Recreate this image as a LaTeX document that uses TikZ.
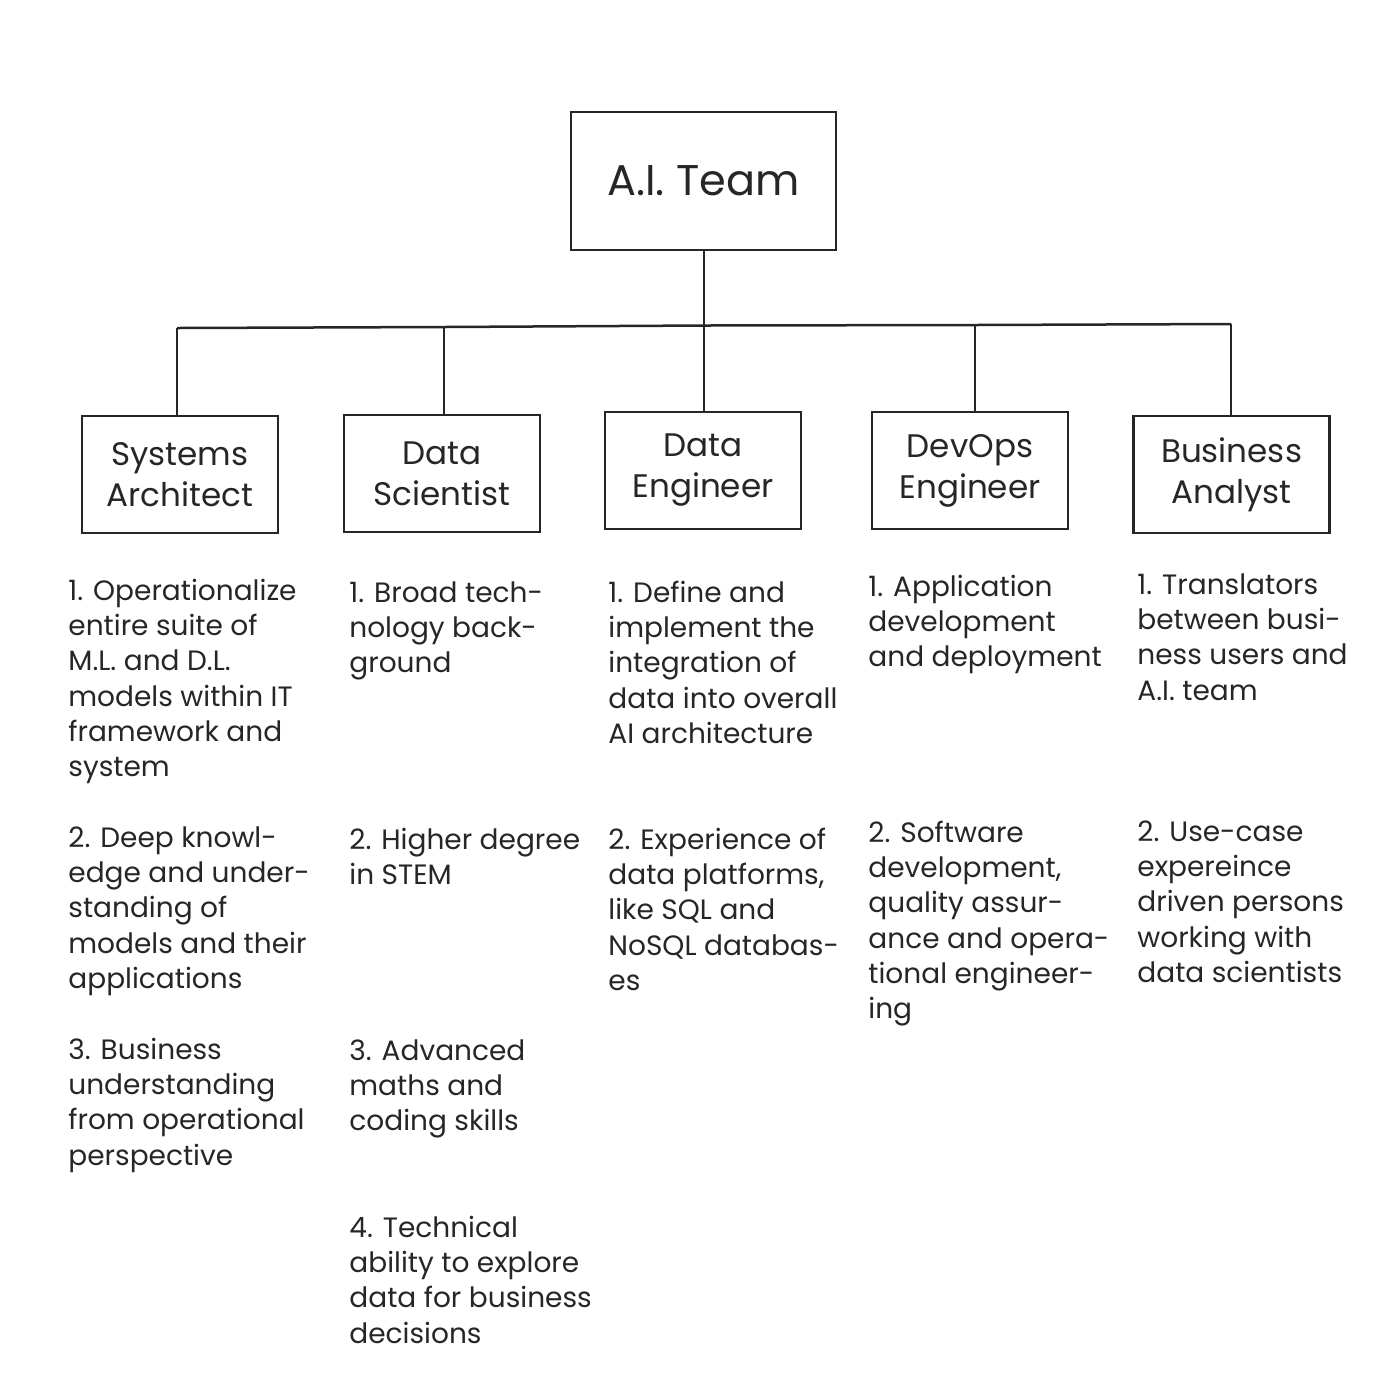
\documentclass[tikz,border=0pt]{standalone}
\usepackage{fontspec}
\setmainfont{Poppins}
\newcommand{\fl}{\rule{0pt}{12pt}}
\begin{document}
\begin{tikzpicture}[x=0.5pt,y=-0.5pt,
  line/.style={line width=1.25pt, draw=black!85},
  rolebox/.style={line, rectangle, minimum width=98pt, minimum height=58.5pt, inner sep=0pt, align=center, font=\fontsize{16.3}{20.5}\selectfont, text=black!85},
  topbox/.style={line, rectangle, minimum width=132.5pt, minimum height=69pt, inner sep=0pt, font=\fontsize{21.5}{25}\selectfont, text=black!85},
  body/.style={anchor=north west, inner sep=0pt, align=left, font=\fontsize{14}{17.6}\selectfont, text=black!85}]
\useasboundingbox (0,0) rectangle (1400,1399);
\node[topbox] (ai) at (703.5,181) {A.I. Team};
\node[rolebox] (sa) at (180,474.5) {Systems\\Architect};
\node[rolebox] (ds) at (442,473.5) {Data\\Scientist};
\node[rolebox] (de) at (703,470.5) {Data\\Engineer};
\node[rolebox] (do) at (970,470.5) {DevOps\\Engineer};
\node[rolebox] (ba) at (1231.5,474.5) {Business\\Analyst};
\coordinate (j1) at (177,328);
\coordinate (j2) at (444,327);
\coordinate (j3) at (704,325.5);
\coordinate (j4) at (975,325);
\coordinate (j5) at (1231,324);
\draw[line] (j1) -- (j2) -- (j3) -- (j4) -- (j5);
\draw[line] (ai.south -| j3) -- (j3);
\draw[line] (j1) -- (j1 |- sa.north);
\draw[line] (j2) -- (j2 |- ds.north);
\draw[line] (j3) -- (j3 |- de.north);
\draw[line] (j4) -- (j4 |- do.north);
\draw[line] (j5) -- (j5 |- ba.north);
% column 1
\node[body] (a1) at (68,576) {\fl 1. Operationalize\\entire suite of\\M.L. and D.L.\\models within IT\\framework and\\system};
\node[body] (a2) at (68,823) {\fl 2. Deep knowl-\\edge and under-\\standing of\\models and their\\applications};
\node[body] (a3) at (68,1035) {\fl 3. Business\\understanding\\from operational\\perspective};
% column 2
\node[body] (b1) at (349,578) {\fl 1. Broad tech-\\nology back-\\ground};
\node[body] (b2) at (349,825) {\fl 2. Higher degree\\in STEM};
\node[body] (b3) at (349,1036) {\fl 3. Advanced\\maths and\\coding skills};
\node[body] (b4) at (349,1213) {\fl 4. Technical\\ability to explore\\data for business\\decisions};
% column 3
\node[body] (c1) at (608,578) {\fl 1. Define and\\implement the\\integration of\\data into overall\\AI architecture};
\node[body] (c2) at (608,825) {\fl 2. Experience of\\data platforms,\\like SQL and\\NoSQL databas-\\es};
% column 4
\node[body] (d1) at (868,572) {\fl 1. Application\\development\\and deployment};
\node[body] (d2) at (868,818) {\fl 2. Software\\development,\\quality assur-\\ance and opera-\\tional engineer-\\ing};
% column 5
\node[body] (e1) at (1137,570) {\fl 1. Translators\\between busi-\\ness users and\\A.I. team};
\node[body] (e2) at (1137,817) {\fl 2. Use-case\\expereince\\driven persons\\working with\\data scientists};
\end{tikzpicture}
\end{document}
